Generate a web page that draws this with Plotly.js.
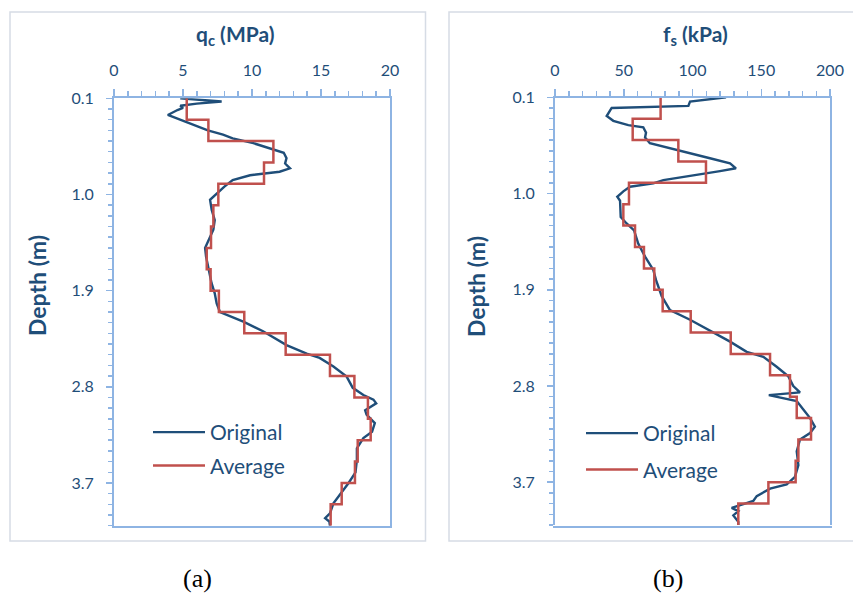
<!DOCTYPE html>
<html><head><meta charset="utf-8">
<script src="https://cdn.plot.ly/plotly-3.0.1.min.js"></script>
<style>html,body{margin:0;padding:0;background:#fff}#chart{width:853px;height:596px}</style>
</head><body><div id="chart"></div>
<script>
// ---- data ----
const depthQc = [0.10,0.13,0.15,0.17,0.19,0.21,0.256,0.30,0.35,0.40,0.44,0.475,0.52,0.57,0.61,0.66,0.71,0.755,0.787,0.82,0.865,0.927,1.02,1.05,1.145,1.24,1.33,1.44,1.50,1.58,1.675,1.77,1.83,1.925,2.02,2.10,2.19,2.28,2.41,2.49,2.53,2.61,2.705,2.81,2.877,2.92,2.955,3.02,3.06,3.14,3.22,3.28,3.375,3.485,3.60,3.70,3.80,3.89,3.985,4.03,4.06,4.10];
const qcOriginal = [4.8,7.8,6.0,4.8,5.0,4.6,3.9,4.8,5.9,6.8,7.9,8.6,10.1,11.4,12.3,12.5,12.4,12.75,12.0,9.86,8.6,8.0,7.2,6.96,7.08,7.3,7.2,6.83,6.6,6.67,6.83,6.95,7.07,7.3,7.44,7.68,9.37,10.8,12.5,13.96,14.9,15.9,16.86,17.3,18.07,18.8,19.0,18.2,18.3,18.9,18.7,18.07,17.6,17.6,17.5,17.0,16.4,15.9,15.65,15.3,15.6,15.65];

const depthFs = [0.10,0.14,0.18,0.20,0.275,0.32,0.36,0.38,0.43,0.475,0.53,0.59,0.67,0.717,0.764,0.79,0.84,0.874,0.905,0.936,0.98,1.03,1.067,1.154,1.22,1.28,1.345,1.47,1.59,1.715,1.81,1.96,2.09,2.18,2.29,2.385,2.48,2.527,2.62,2.71,2.80,2.86,2.885,2.94,3.02,3.10,3.18,3.24,3.30,3.41,3.54,3.65,3.72,3.76,3.83,3.875,3.905,3.94,3.97,4.01,4.07,4.10];
const fsOriginal = [124.4,98.2,97,41.2,37.6,42.4,53.3,64.2,66.2,65.5,69,88.5,112.7,127.3,131.6,120,93.3,78.8,71.5,54.5,49.7,45.3,47.3,47.8,47.8,52.1,57.5,60.6,65.5,71.5,73.5,77.6,83.6,98.2,114,127.3,139.4,151.5,161.2,169.7,173.3,178.2,155.5,175.8,180.6,185.5,189,185.5,178.2,175.8,177,174.5,168.5,156.4,146.7,144.2,137,128.5,133.3,129.7,133.3,133.3];

const binEdges = [0.1,0.3,0.5,0.7,0.9,1.1,1.3,1.5,1.7,1.9,2.1,2.3,2.5,2.7,2.9,3.1,3.3,3.5,3.7,3.9,4.1];
const qcAverage = [5.27,6.84,11.55,10.87,7.56,7.2,7.03,6.72,7.0,7.6,9.44,12.44,15.65,17.42,18.4,18.6,17.66,17.46,16.5,15.7];
const fsAverage = [76.8,56.5,89.7,109.8,53.8,49.7,58.2,64.7,72.2,78.3,98.7,127.8,156.4,170.9,175.8,186.2,177,175,155.2,133.3];

const depthTicks = [0.1,1.0,1.9,2.8,3.7];
const depthTickLabels = ['0.1','1.0','1.9','2.8','3.7'];
const qcTicks = [0,5,10,15,20];
const qcTickLabels = ['0','5','10','15','20'];
const fsTicks = [0,50,100,150,200];
const fsTickLabels = ['0','50','100','150','200'];

// ---- styling ----
const W = 853, H = 596;
const px = v => v / W, py = v => 1 - v / H;
const axisColor = '#8EB4E3', textColor = '#1F4E79';
const blue = '#1F4E79', red = '#C0504D';
const stepX = arr => arr.concat([arr[arr.length - 1]]);

function xAxis(d0, d1, range, tv, tt, minorStep) {
  return {domain:[px(d0), px(d1)], range:range, side:'top', tickmode:'array', tickvals:tv, ticktext:tt,
    ticks:'outside', ticklen:7, tickwidth:1.5, tickcolor:axisColor,
    showline:true, linecolor:axisColor, linewidth:2, mirror:true, showgrid:false, zeroline:false,
    tickfont:{family:'Lato', size:16, color:textColor}, ticklabelstandoff:7,
    minor:{dtick:minorStep, tick0:0, ticks:'outside', ticklen:5, tickwidth:1.5, tickcolor:axisColor, showgrid:false}};
}
function yAxis(top, bottom, anchor) {
  return {domain:[py(bottom), py(top)], range:[4.1, 0.1], anchor:anchor, tickmode:'array',
    tickvals:depthTicks, ticktext:depthTickLabels,
    ticks:'outside', ticklen:6, tickwidth:1.5, tickcolor:axisColor,
    showline:true, linecolor:axisColor, linewidth:2, mirror:true, showgrid:false, zeroline:false,
    tickfont:{family:'Lato', size:16, color:textColor}, ticklabelstandoff:9,
    minor:{dtick:0.1, tick0:0.1, ticks:'outside', ticklen:4, tickwidth:1.5, tickcolor:axisColor, showgrid:false}};
}

const traces = [
  {x:qcOriginal, y:depthQc, type:'scatter', mode:'lines', name:'Original', line:{color:blue, width:2.4},
   xaxis:'x', yaxis:'y', legend:'legend', legendgroup:'a1'},
  {x:stepX(qcAverage), y:binEdges, type:'scatter', mode:'lines', name:'Average', line:{color:red, width:2.5, shape:'vh'},
   xaxis:'x', yaxis:'y', legend:'legend', legendgroup:'a2'},
  {x:fsOriginal, y:depthFs, type:'scatter', mode:'lines', name:'Original', line:{color:blue, width:2.4},
   xaxis:'x2', yaxis:'y2', legend:'legend2', legendgroup:'b1'},
  {x:stepX(fsAverage), y:binEdges, type:'scatter', mode:'lines', name:'Average', line:{color:red, width:2.5, shape:'vh'},
   xaxis:'x2', yaxis:'y2', legend:'legend2', legendgroup:'b2'}
];

const legendStyle = (x, y, gap) => ({x:x, y:y, xanchor:'left', yanchor:'top', bgcolor:'rgba(0,0,0,0)',
  font:{family:'Lato', size:21, color:textColor}, itemwidth:52, tracegroupgap:gap, traceorder:'grouped'});

const titleFont = {family:'Lato', size:21, color:textColor};
const ann = (text, x, y, font, extra) => Object.assign({text:text, xref:'paper', yref:'paper', x:px(x), y:py(y),
  xanchor:'center', yanchor:'middle', showarrow:false, font:font}, extra || {});
const depthFont = {family:'Lato', size:23, color:textColor};
const capFont = {family:'Liberation Serif', size:26, color:'#000'};

const layout = {
  width:W, height:H, margin:{l:0, r:0, t:0, b:0}, paper_bgcolor:'#fff', plot_bgcolor:'#fff',
  showlegend:true,
  xaxis: xAxis(114, 390, [0, 20], qcTicks, qcTickLabels, 1),
  yaxis: yAxis(98.3, 525.7, 'x'),
  xaxis2: xAxis(555, 830, [0, 200], fsTicks, fsTickLabels, 10),
  yaxis2: yAxis(97.3, 525, 'x2'),
  legend: legendStyle(px(148), py(412), 3),
  legend2: legendStyle(px(581), py(413), 6),
  shapes: [
    {type:'rect', xref:'paper', yref:'paper', x0:px(10), x1:px(425.5), y0:py(541), y1:py(12), line:{color:'#D6DCE5', width:1.5}},
    {type:'rect', xref:'paper', yref:'paper', x0:px(449), x1:px(870), y0:py(541), y1:py(12), line:{color:'#D6DCE5', width:1.5}}
  ],
  annotations: [
    ann('<b>q<sub>c</sub> (MPa)</b>', 235, 35, titleFont),
    ann('<b>f<sub>s</sub> (kPa)</b>', 695, 35, titleFont),
    ann('<b>Depth (m)</b>', 37, 286, depthFont, {textangle:-90}),
    ann('<b>Depth (m)</b>', 476, 286, depthFont, {textangle:-90}),
    ann('(a)', 197, 578, capFont),
    ann('(b)', 668, 578, capFont)
  ]
};

Plotly.newPlot('chart', traces, layout, {displayModeBar:false, staticPlot:true});
</script>
</body></html>
